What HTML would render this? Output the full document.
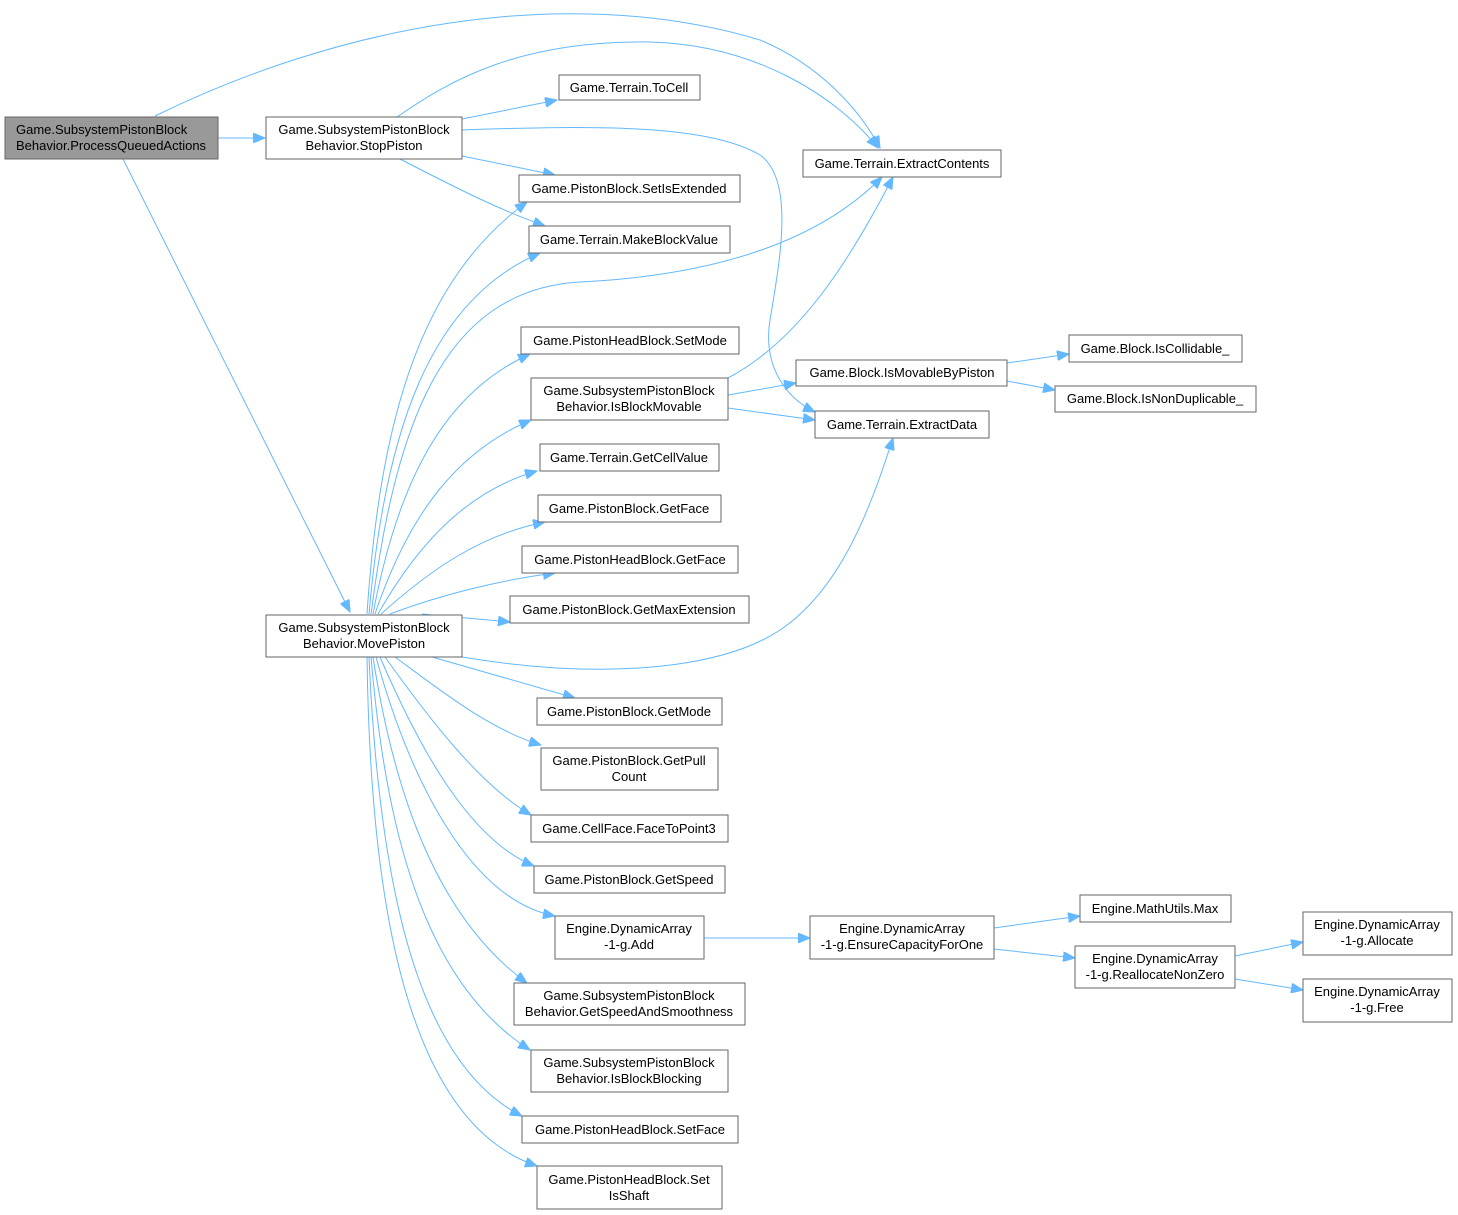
<!DOCTYPE html>
<html><head><meta charset="utf-8"><style>
html,body{margin:0;padding:0;background:#fff;}
svg{display:block;}
text{font-family:"Liberation Sans",sans-serif;font-size:13px;fill:#000;}
.b{fill:#fff;stroke:#666;stroke-width:1;}
.e{fill:none;stroke:#63b8ff;stroke-width:1;}
</style></head><body>
<svg width="1458" height="1215" viewBox="0 0 1458 1215" xmlns="http://www.w3.org/2000/svg">
<defs><marker id="a" markerUnits="userSpaceOnUse" markerWidth="13" markerHeight="10" refX="12" refY="5" orient="auto"><path d="M0,0 L12,5 L0,10 z" fill="#63b8ff" stroke="#63b8ff"/></marker></defs>
<g class="e" marker-end="url(#a)">
<path d="M155,116 C330,30 560,-20 760,40 C820,65 860,110 880,148"/>
<path d="M218,138 L265,138"/>
<path d="M123,159 L350,612"/>
<path d="M397,117 C450,80 520,40 650,42 C760,45 840,100 878,148"/>
<path d="M462,119 L557,100"/>
<path d="M462,130 C600,125 710,125 760,155 C795,180 780,260 770,320 C762,370 790,400 815,412"/>
<path d="M462,156 L555,175"/>
<path d="M400,159 C460,190 500,210 545,226"/>
<path d="M367,614 C380,420 420,280 527,202"/>
<path d="M369,614 C385,430 430,300 540,253"/>
<path d="M371,614 C395,430 440,290 580,282 C720,275 820,240 882,177"/>
<path d="M373,614 C400,470 450,390 530,354"/>
<path d="M375,614 C410,510 460,450 531,420"/>
<path d="M378,614 C420,540 470,490 537,471"/>
<path d="M381,614 C430,570 480,535 545,522"/>
<path d="M390,614 C440,595 500,580 555,573"/>
<path d="M422,614 L510,622"/>
<path d="M462,657 C600,680 720,670 780,630 C840,590 870,510 893,438"/>
<path d="M432,657 L575,698"/>
<path d="M395,657 C440,690 490,730 541,745"/>
<path d="M385,657 C430,720 480,785 531,815"/>
<path d="M380,657 C420,750 470,840 534,866"/>
<path d="M376,657 C410,780 470,900 555,916"/>
<path d="M373,657 C395,800 440,920 527,983"/>
<path d="M371,657 C385,820 420,980 530,1050"/>
<path d="M369,657 C378,860 410,1060 522,1116"/>
<path d="M367,657 C370,880 400,1120 537,1166"/>
<path d="M728,378 C800,340 850,260 893,177"/>
<path d="M728,395 L796,383"/>
<path d="M728,408 L815,420"/>
<path d="M1007,363 L1069,354"/>
<path d="M1007,381 L1055,390"/>
<path d="M704,938 L810,938"/>
<path d="M994,928 L1080,916"/>
<path d="M994,949 L1075,958"/>
<path d="M1235,956 L1303,942"/>
<path d="M1235,979 L1303,990"/>
</g>
<g>
<rect x="5" y="117" width="213" height="42" fill="#999" stroke="#666"/>
<text x="16" y="134">Game.SubsystemPistonBlock</text><text x="16" y="150">Behavior.ProcessQueuedActions</text>
<rect class="b" x="266" y="117" width="196" height="42"/>
<text x="364" y="134" text-anchor="middle">Game.SubsystemPistonBlock</text><text x="364" y="150" text-anchor="middle">Behavior.StopPiston</text>
<rect class="b" x="266" y="615" width="196" height="42"/>
<text x="364" y="632" text-anchor="middle">Game.SubsystemPistonBlock</text><text x="364" y="648" text-anchor="middle">Behavior.MovePiston</text>
</g>
<g text-anchor="middle">
<rect class="b" x="559" y="75" width="141" height="25"/><text x="629" y="92">Game.Terrain.ToCell</text>
<rect class="b" x="803" y="150" width="198" height="27"/><text x="902" y="168">Game.Terrain.ExtractContents</text>
<rect class="b" x="519" y="175" width="221" height="27"/><text x="629" y="193">Game.PistonBlock.SetIsExtended</text>
<rect class="b" x="529" y="226" width="201" height="27"/><text x="629" y="244">Game.Terrain.MakeBlockValue</text>
<rect class="b" x="521" y="327" width="218" height="27"/><text x="630" y="345">Game.PistonHeadBlock.SetMode</text>
<rect class="b" x="531" y="378" width="197" height="42"/><text x="629" y="395">Game.SubsystemPistonBlock</text><text x="629" y="411">Behavior.IsBlockMovable</text>
<rect class="b" x="796" y="360" width="211" height="26"/><text x="902" y="377">Game.Block.IsMovableByPiston</text>
<rect class="b" x="815" y="411" width="174" height="27"/><text x="902" y="429">Game.Terrain.ExtractData</text>
<rect class="b" x="1069" y="335" width="173" height="27"/><text x="1155" y="353">Game.Block.IsCollidable_</text>
<rect class="b" x="1055" y="386" width="201" height="26"/><text x="1155" y="403">Game.Block.IsNonDuplicable_</text>
<rect class="b" x="540" y="444" width="179" height="27"/><text x="629" y="462">Game.Terrain.GetCellValue</text>
<rect class="b" x="538" y="495" width="183" height="27"/><text x="629" y="513">Game.PistonBlock.GetFace</text>
<rect class="b" x="522" y="546" width="216" height="27"/><text x="630" y="564">Game.PistonHeadBlock.GetFace</text>
<rect class="b" x="510" y="596" width="239" height="27"/><text x="629" y="614">Game.PistonBlock.GetMaxExtension</text>
<rect class="b" x="537" y="698" width="185" height="27"/><text x="629" y="716">Game.PistonBlock.GetMode</text>
<rect class="b" x="541" y="748" width="177" height="42"/><text x="629" y="765">Game.PistonBlock.GetPull</text><text x="629" y="781">Count</text>
<rect class="b" x="531" y="815" width="197" height="27"/><text x="629" y="833">Game.CellFace.FaceToPoint3</text>
<rect class="b" x="534" y="866" width="191" height="27"/><text x="629" y="884">Game.PistonBlock.GetSpeed</text>
<rect class="b" x="555" y="916" width="149" height="43"/><text x="629" y="933">Engine.DynamicArray</text><text x="629" y="949">-1-g.Add</text>
<rect class="b" x="810" y="916" width="184" height="43"/><text x="902" y="933">Engine.DynamicArray</text><text x="902" y="949">-1-g.EnsureCapacityForOne</text>
<rect class="b" x="1080" y="895" width="151" height="27"/><text x="1155" y="913">Engine.MathUtils.Max</text>
<rect class="b" x="1075" y="946" width="160" height="42"/><text x="1155" y="963">Engine.DynamicArray</text><text x="1155" y="979">-1-g.ReallocateNonZero</text>
<rect class="b" x="1303" y="912" width="149" height="43"/><text x="1377" y="929">Engine.DynamicArray</text><text x="1377" y="945">-1-g.Allocate</text>
<rect class="b" x="1303" y="979" width="149" height="43"/><text x="1377" y="996">Engine.DynamicArray</text><text x="1377" y="1012">-1-g.Free</text>
<rect class="b" x="514" y="983" width="231" height="42"/><text x="629" y="1000">Game.SubsystemPistonBlock</text><text x="629" y="1016">Behavior.GetSpeedAndSmoothness</text>
<rect class="b" x="531" y="1050" width="197" height="42"/><text x="629" y="1067">Game.SubsystemPistonBlock</text><text x="629" y="1083">Behavior.IsBlockBlocking</text>
<rect class="b" x="522" y="1116" width="216" height="27"/><text x="630" y="1134">Game.PistonHeadBlock.SetFace</text>
<rect class="b" x="537" y="1166" width="185" height="43"/><text x="629" y="1184">Game.PistonHeadBlock.Set</text><text x="629" y="1200">IsShaft</text>
</g>
</svg>
</body></html>
